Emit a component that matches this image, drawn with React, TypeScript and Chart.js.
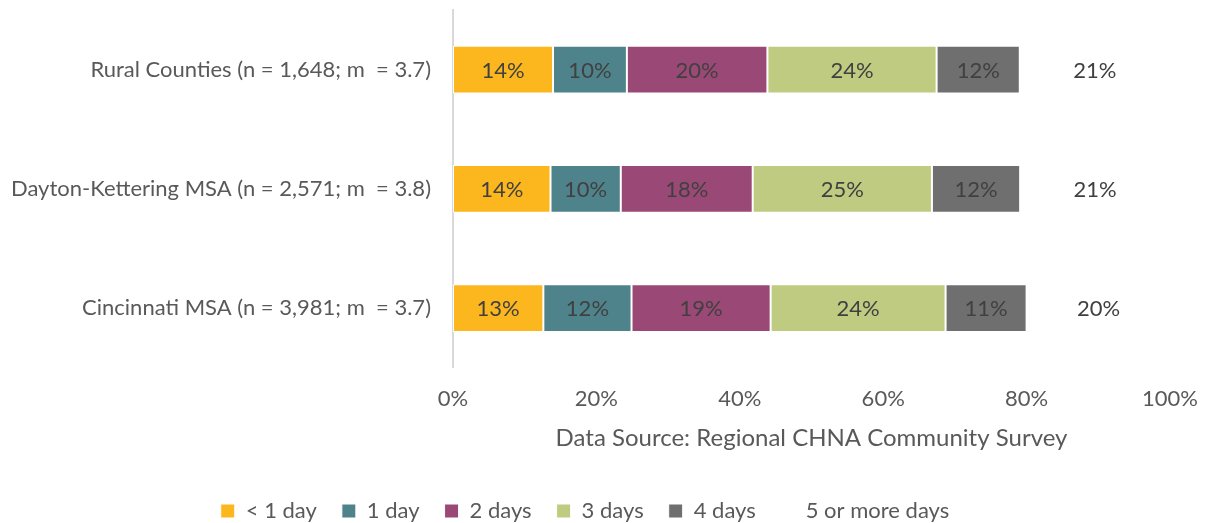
import React, { useEffect, useRef } from "react";
import { Chart, registerables } from "chart.js";

Chart.register(...registerables);

const categories = [
  "Rural Counties (n = 1,648; m  = 3.7)",
  "Dayton-Kettering MSA (n = 2,571; m  = 3.8)",
  "Cincinnati MSA (n = 3,981; m  = 3.7)",
];
const seriesNames = ["< 1 day", "1 day", "2 days", "3 days", "4 days", "5 or more days"];
const lessThanOneDay = [13.95, 13.6, 12.6];
const oneDay = [10.3, 9.8, 12.3];
const twoDays = [19.6, 18.4, 19.4];
const threeDays = [23.6, 25.0, 24.4];
const fourDays = [11.6, 12.3, 11.3];
const fiveOrMore = [20.9, 20.9, 20.1];
const xTicks = [0, 20, 40, 60, 80, 100];
const sourceText = "Data Source: Regional CHNA Community Survey";

const colors = ["#FDB71E", "#4F838C", "#9A4875", "#BFCB81", "#6E6F6E", "rgba(0,0,0,0)"];
const FONT = "Lato, 'Open Sans', sans-serif";

const barLabels = {
  id: "barLabels",
  afterDatasetsDraw(chart: any) {
    const ctx = chart.ctx;
    ctx.save();
    ctx.font = `22px ${FONT}`;
    ctx.fillStyle = "#404040";
    ctx.textAlign = "center";
    ctx.textBaseline = "middle";
    chart.data.datasets.forEach((ds: any, i: number) => {
      const meta = chart.getDatasetMeta(i);
      meta.data.forEach((el: any, j: number) => {
        const v = ds.data[j];
        const cx = (el.x + el.base) / 2;
        ctx.fillText(Math.round(v) + "%", cx, el.y + 1);
      });
    });
    ctx.restore();
  },
};

export default function App() {
  const ref = useRef<HTMLCanvasElement>(null);
  useEffect(() => {
    document.body.style.margin = "0";
    const values = [lessThanOneDay, oneDay, twoDays, threeDays, fourDays, fiveOrMore];
    const chart = new Chart(ref.current!, {
      type: "bar",
      data: {
        labels: categories,
        datasets: seriesNames.map((name, i) => ({
          label: name,
          data: values[i],
          backgroundColor: colors[i],
          borderColor: i === 5 ? "rgba(0,0,0,0)" : "#ffffff",
          borderWidth: 1,
          borderSkipped: false,
          categoryPercentage: 1,
          barPercentage: 0.4,
        })),
      },
      options: {
        indexAxis: "y",
        responsive: false,
        animation: false,
        devicePixelRatio: 1,
        layout: { padding: { top: 10, right: 35, left: 0, bottom: -9 } },
        scales: {
          x: {
            stacked: true,
            min: 0,
            max: 100,
            afterBuildTicks: (scale: any) => {
              scale.ticks = xTicks.map((v) => ({ value: v }));
            },
            afterFit: (scale: any) => {
              scale.paddingLeft = 0;
              scale.paddingRight = 0;
            },
            ticks: {
              callback: (v: any) => v + "%",
              font: { size: 22, family: FONT },
              color: "#595959",
              padding: 18,
              maxRotation: 0,
            },
            grid: { display: false, drawTicks: false },
            border: { display: false },
            title: {
              display: true,
              text: sourceText,
              font: { size: 24, family: FONT },
              color: "#595959",
              padding: { top: -6, bottom: 22 },
            },
          },
          y: {
            stacked: true,
            afterFit: (scale: any) => {
              scale.width = 453;
              scale.paddingTop = 0;
              scale.paddingBottom = 0;
            },
            ticks: {
              font: { size: 22, family: FONT },
              color: "#595959",
              padding: 22,
            },
            grid: { display: false, drawTicks: false },
            border: { display: true, color: "#D9D9D9", width: 2 },
          },
        },
        plugins: {
          legend: {
            position: "bottom",
            labels: {
              font: { size: 22, family: FONT },
              color: "#595959",
              boxWidth: 14,
              boxHeight: 14,
              padding: 25,
            },
          },
          tooltip: { enabled: false },
        },
      },
      plugins: [barLabels],
    });
    return () => chart.destroy();
  }, []);
  return (
    <div style={{ width: 1205, height: 523 }}>
      <canvas ref={ref} width={1205} height={523} />
    </div>
  );
}
